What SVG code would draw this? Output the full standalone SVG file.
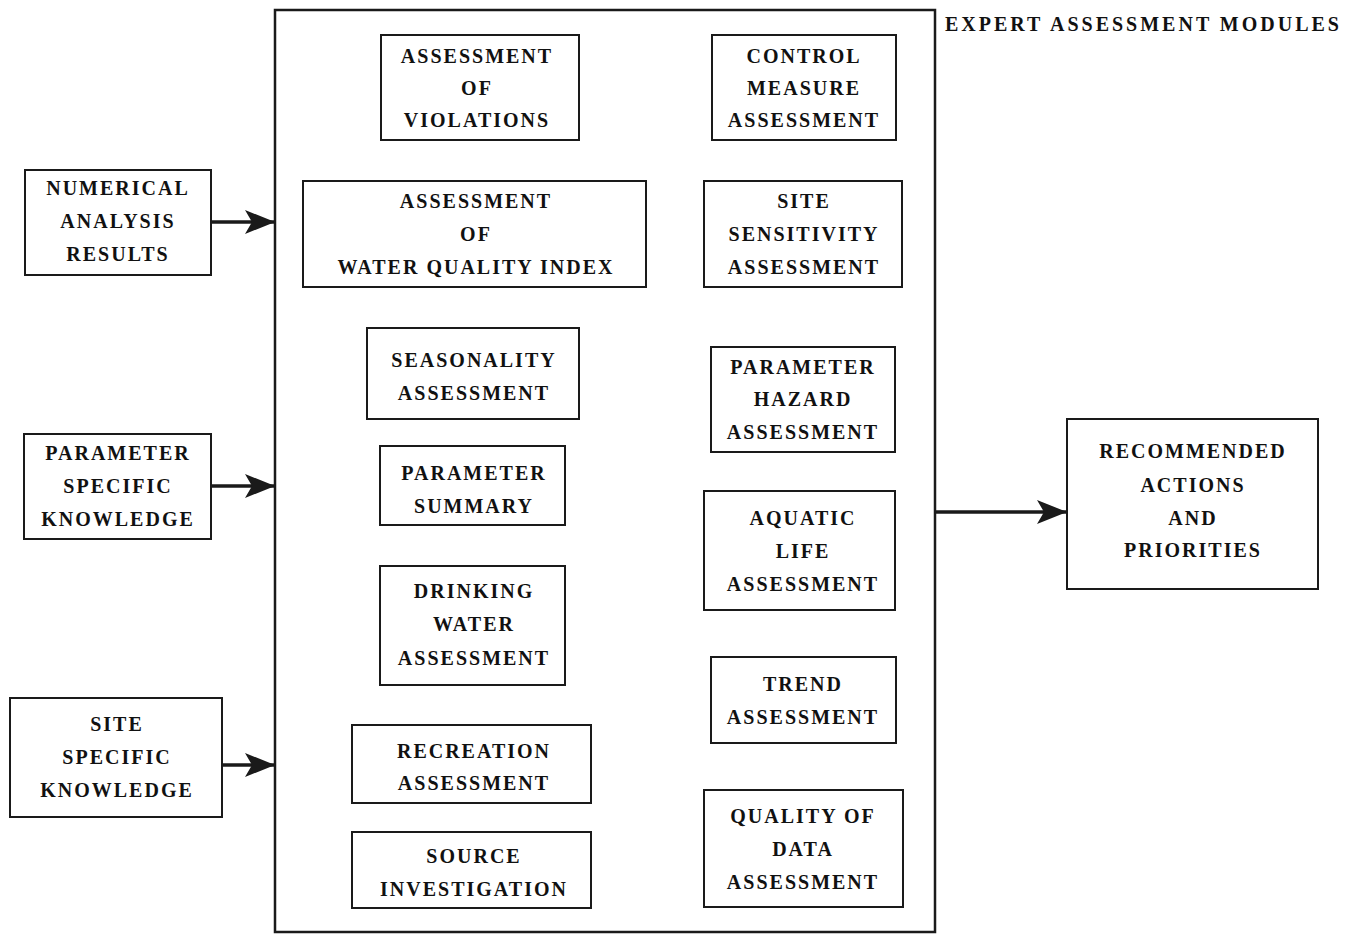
<svg xmlns="http://www.w3.org/2000/svg" width="1358" height="935" viewBox="0 0 1358 935">
<style>
.box{fill:#fff;stroke:#1a1a1a;stroke-width:2}
.frame{fill:#fff;stroke:#1a1a1a;stroke-width:2.5}
.t{font-family:"Liberation Serif","DejaVu Serif",serif;font-weight:bold;font-size:20px;letter-spacing:2px;text-anchor:middle;fill:#111}
.title{font-family:"Liberation Serif","DejaVu Serif",serif;font-weight:bold;font-size:20px;letter-spacing:3px;fill:#111}
.c{stroke:#1a1a1a;stroke-width:3.5;fill:none}
</style>
<defs>
<marker id="ah" markerUnits="userSpaceOnUse" markerWidth="34" markerHeight="28" refX="30" refY="14" orient="auto" viewBox="0 0 34 28">
<path d="M0,2 L30,14 L0,26 L7,14 Z" fill="#1a1a1a"/>
</marker>
</defs>
<rect width="1358" height="935" fill="#fff"/>
<g id="frame">
<rect class="frame" x="275" y="10" width="660" height="922"/>
<text class="title" x="945" y="31">EXPERT ASSESSMENT MODULES</text>
</g>
<g id="connectors">
<line class="c" x1="211" y1="222" x2="275" y2="222" marker-end="url(#ah)"/>
<line class="c" x1="211" y1="486" x2="275" y2="486" marker-end="url(#ah)"/>
<line class="c" x1="222" y1="765" x2="275" y2="765" marker-end="url(#ah)"/>
<line class="c" x1="935" y1="512" x2="1067" y2="512" marker-end="url(#ah)"/>
</g>
<g id="numerical">
<rect class="box" x="25" y="170" width="186" height="105"/>
<text class="t" x="118" y="195">NUMERICAL</text>
<text class="t" x="118" y="228">ANALYSIS</text>
<text class="t" x="118" y="261">RESULTS</text>
</g>
<g id="paramknow">
<rect class="box" x="24" y="434" width="187" height="105"/>
<text class="t" x="118" y="460">PARAMETER</text>
<text class="t" x="118" y="493">SPECIFIC</text>
<text class="t" x="118" y="526">KNOWLEDGE</text>
</g>
<g id="siteknow">
<rect class="box" x="10" y="698" width="212" height="119"/>
<text class="t" x="117" y="731">SITE</text>
<text class="t" x="117" y="764">SPECIFIC</text>
<text class="t" x="117" y="797">KNOWLEDGE</text>
</g>
<g id="recommended">
<rect class="box" x="1067" y="419" width="251" height="170"/>
<text class="t" x="1193" y="458">RECOMMENDED</text>
<text class="t" x="1193" y="492">ACTIONS</text>
<text class="t" x="1193" y="525">AND</text>
<text class="t" x="1193" y="557">PRIORITIES</text>
</g>
<g id="violations">
<rect class="box" x="381" y="35" width="198" height="105"/>
<text class="t" x="477" y="63">ASSESSMENT</text>
<text class="t" x="477" y="95">OF</text>
<text class="t" x="477" y="127">VIOLATIONS</text>
</g>
<g id="wqi">
<rect class="box" x="303" y="181" width="343" height="106"/>
<text class="t" x="476" y="208">ASSESSMENT</text>
<text class="t" x="476" y="241">OF</text>
<text class="t" x="476" y="274">WATER QUALITY INDEX</text>
</g>
<g id="seasonality">
<rect class="box" x="367" y="328" width="212" height="91"/>
<text class="t" x="474" y="367">SEASONALITY</text>
<text class="t" x="474" y="400">ASSESSMENT</text>
</g>
<g id="paramsummary">
<rect class="box" x="380" y="446" width="185" height="79"/>
<text class="t" x="474" y="480">PARAMETER</text>
<text class="t" x="474" y="513">SUMMARY</text>
</g>
<g id="drinking">
<rect class="box" x="380" y="566" width="185" height="119"/>
<text class="t" x="474" y="598">DRINKING</text>
<text class="t" x="474" y="631">WATER</text>
<text class="t" x="474" y="665">ASSESSMENT</text>
</g>
<g id="recreation">
<rect class="box" x="352" y="725" width="239" height="78"/>
<text class="t" x="474" y="758">RECREATION</text>
<text class="t" x="474" y="790">ASSESSMENT</text>
</g>
<g id="source">
<rect class="box" x="352" y="832" width="239" height="76"/>
<text class="t" x="474" y="863">SOURCE</text>
<text class="t" x="474" y="896">INVESTIGATION</text>
</g>
<g id="control">
<rect class="box" x="712" y="35" width="184" height="105"/>
<text class="t" x="804" y="63">CONTROL</text>
<text class="t" x="804" y="95">MEASURE</text>
<text class="t" x="804" y="127">ASSESSMENT</text>
</g>
<g id="sitesens">
<rect class="box" x="704" y="181" width="198" height="106"/>
<text class="t" x="804" y="208">SITE</text>
<text class="t" x="804" y="241">SENSITIVITY</text>
<text class="t" x="804" y="274">ASSESSMENT</text>
</g>
<g id="hazard">
<rect class="box" x="711" y="347" width="184" height="105"/>
<text class="t" x="803" y="374">PARAMETER</text>
<text class="t" x="803" y="406">HAZARD</text>
<text class="t" x="803" y="439">ASSESSMENT</text>
</g>
<g id="aquatic">
<rect class="box" x="704" y="491" width="191" height="119"/>
<text class="t" x="803" y="525">AQUATIC</text>
<text class="t" x="803" y="558">LIFE</text>
<text class="t" x="803" y="591">ASSESSMENT</text>
</g>
<g id="trend">
<rect class="box" x="711" y="657" width="185" height="86"/>
<text class="t" x="803" y="691">TREND</text>
<text class="t" x="803" y="724">ASSESSMENT</text>
</g>
<g id="qualitydata">
<rect class="box" x="704" y="790" width="199" height="117"/>
<text class="t" x="803" y="823">QUALITY OF</text>
<text class="t" x="803" y="856">DATA</text>
<text class="t" x="803" y="889">ASSESSMENT</text>
</g>
</svg>
